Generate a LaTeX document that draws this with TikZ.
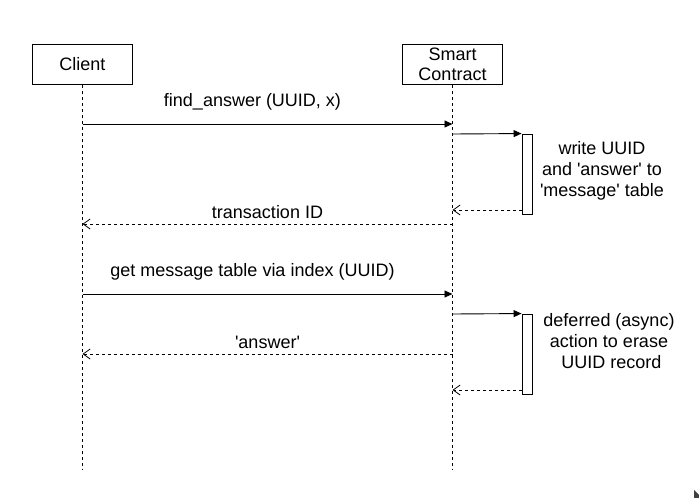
\documentclass[tikz,border=0pt]{standalone}
\usepackage{fontspec}
\setmainfont{Liberation Sans}
\usetikzlibrary{arrows.meta}
\newcommand{\sq}{\textquotesingle}
\begin{document}
\begin{tikzpicture}[x=1pt,y=-1pt,
  every node/.style={font=\fontsize{18}{21}\selectfont, inner sep=0pt},
  actor/.style={draw, line width=0.9pt, minimum width=100pt, minimum height=40pt, align=center, font=\fontsize{18}{20}\selectfont},
  life/.style={line width=0.8pt, dash pattern=on 3pt off 3pt},
  act/.style={draw, fill=white, line width=0.9pt, minimum width=10pt, minimum height=80pt},
  msg/.style={line width=0.9pt, -{Triangle[length=8pt,width=7pt]}},
  ret/.style={line width=0.8pt, dash pattern=on 3pt off 3pt, -{Straight Barb[length=7pt,width=10pt,line width=0.8pt]}},
  lbl/.style={align=center}]
\useasboundingbox (0,0) rectangle (699,498);
\node[actor] (client) at (82.5,64.5) {Client};
\node[actor] (sc) at (452.5,64.5) {Smart\\Contract};
\coordinate (cend) at (82.5,470);
\coordinate (send) at (452.5,470);
\draw[life] (client.south) -- (cend);
\draw[life] (sc.south) -- (send);
% activations
\node[act] (a1) at (527,174) {};
\node[act] (a2) at (527,354) {};
% coordinates on lifelines
\coordinate (c1) at (82.5,124); \coordinate (s1) at (452.5,124);
\coordinate (s2) at (452.5,134); \coordinate (a1t) at (a1.north west);
\coordinate (s3) at (452.5,210); \coordinate (a1r) at (522,210);
\coordinate (s4) at (452.5,224); \coordinate (c4) at (82.5,224);
\coordinate (c5) at (82.5,294); \coordinate (s5) at (452.5,294);
\coordinate (s6) at (452.5,314); \coordinate (a2t) at (a2.north west);
\coordinate (s7) at (452.5,354); \coordinate (c7) at (82.5,354);
\coordinate (s8) at (452.5,390); \coordinate (a2r) at (522,390);
\draw[msg] (c1) -- (s1);
\draw[msg] (s2) -- (a1t);
\draw[ret] (a1r) -- (s3);
\draw[ret] (s4) -- (c4);
\draw[msg] (c5) -- (s5);
\draw[msg] (s6) -- (a2t);
\draw[ret] (s7) -- (c7);
\draw[ret] (a2r) -- (s8);
% labels
\node (l1) at (252.5,102) {find\_answer (UUID, x)};
\node (l4) at (267.5,212) {transaction ID};
\node (l5) at (252.5,272) {get message table via index (UUID)};
\node (l7) at (267.5,342) {\sq answer\sq};
\node[lbl, font=\fontsize{18}{21}\selectfont] (n1) at (602,171) {write UUID\\and \sq answer\sq\ to\\\sq message\sq\ table};
\node[lbl, font=\fontsize{18}{21}\selectfont] (n2) at (609,341) {deferred (async)\\action to erase\\\ UUID record};
% corner mark
\fill[black!75] (694,490) -- (699,495) -- (699,498) -- (694,498) -- cycle;
\end{tikzpicture}
\end{document}
